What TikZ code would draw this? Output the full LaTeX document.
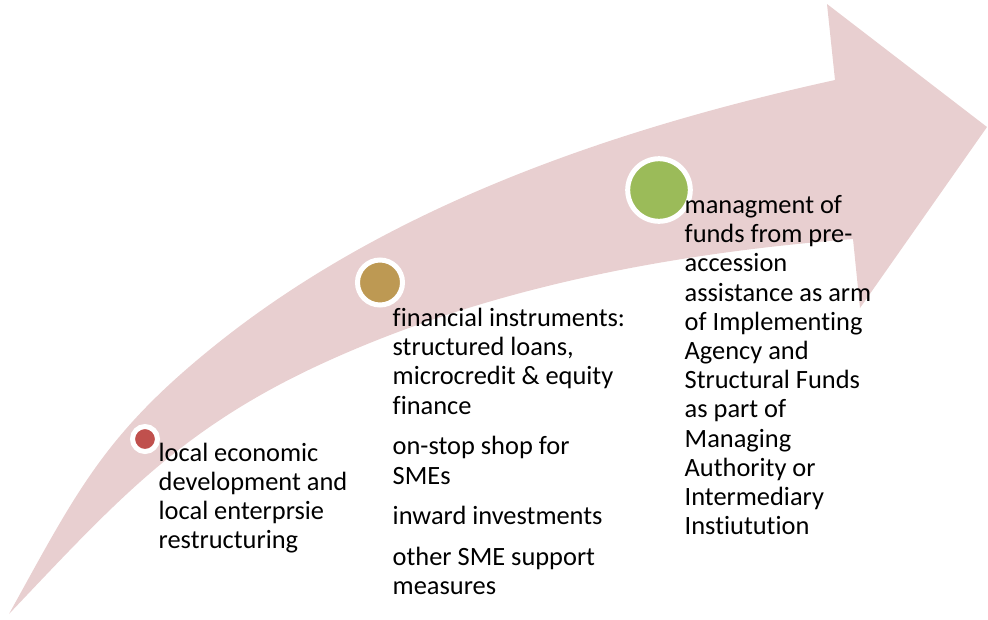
\documentclass[tikz,border=0pt]{standalone}
\usepackage{fontspec}
\setmainfont[Ligatures=NoCommon]{Carlito}
\definecolor{arrowpink}{RGB}{232,207,208}
\definecolor{dotred}{RGB}{192,80,77}
\definecolor{dotgold}{RGB}{189,153,83}
\definecolor{dotgreen}{RGB}{155,187,89}
\newcommand{\txtfont}{\fontsize{26.4}{29.2}\selectfont}
\begin{document}
\begin{tikzpicture}[x=1pt,y=-1pt,
  dot/.style={circle,draw=white,line width=5pt,inner sep=0pt},
  txt/.style={inner sep=0pt,anchor=base west,font=\txtfont}]
\useasboundingbox (0,0) rectangle (988,619);
% curved arrow
\fill[arrowpink] (9,614)
  .. controls (76.7,491.5) and (104,435) .. (213,347)
  .. controls (388,205.5) and (615,128.4) .. (835,80)
  -- (827,4) -- (987,127) -- (860,308) -- (853,239)
  .. controls (674,253) and (493,286.6) .. (330,360)
  .. controls (184,425.6) and (119,498) .. (9,614) -- cycle;
% dots
\node[dot,fill=dotred,minimum size=25pt] (d1) at (145,439) {};
\node[dot,fill=dotgold,minimum size=45pt] (d2) at (380,282.5) {};
\node[dot,fill=dotgreen,minimum size=62.6pt] (d3) at (659,190) {};
% texts
\node[txt] (t1) at (158.5,461) {\parbox[t]{240pt}{\txtfont\raggedright
local economic\\development and\\local enterprsie\\restructuring}};
\node[txt] (t2) at (392.5,326.5) {\parbox[t]{260pt}{\txtfont\raggedright
financial instruments:\\structured loans,\\microcredit \& equity\\finance\\[11.5pt]on-stop shop for\\SMEs\\[11.5pt]inward investments\\[11.5pt]other SME support\\measures}};
\node[txt] (t3) at (684.5,213.5) {\parbox[t]{240pt}{\txtfont\raggedright
managment of\\funds from pre-\\accession\\assistance as arm\\of Implementing\\Agency and\\Structural Funds\\as part of\\Managing\\Authority or\\Intermediary\\Instiutution}};
\end{tikzpicture}
\end{document}
